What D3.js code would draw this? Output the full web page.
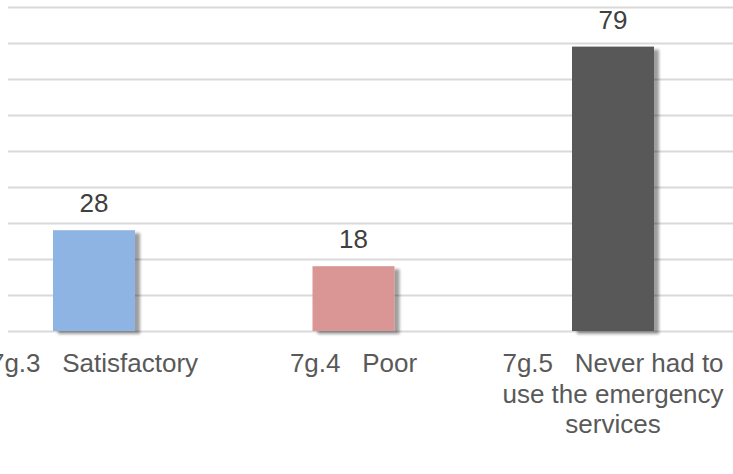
<!DOCTYPE html>
<html>
<head>
<meta charset="utf-8">
<script src="https://cdn.jsdelivr.net/npm/d3@7"></script>
<style>
  html, body { margin: 0; padding: 0; background: #fff; }
  svg { display: block; }
  text { font-family: "Liberation Sans", Arial, sans-serif; }
</style>
</head>
<body>
<svg id="chart" width="733" height="474"></svg>
<script>
const categories = ["7g.3   Satisfactory", "7g.4   Poor", "7g.5   Never had to use the emergency services"];
const values = [28, 18, 79];
const colors = ["#8EB4E3", "#D99694", "#595959"];
const gridTicks = [0, 10, 20, 30, 40, 50, 60, 70, 80, 90];

const svg = d3.select("#chart");
const W = 733, H = 474;

const y = d3.scaleLinear().domain([0, 90]).range([331, 7]);
const x = d3.scaleBand()
  .domain(categories)
  .range([-35.75, 742.75])
  .paddingInner(0.684)
  .paddingOuter(0.342);

const defs = svg.append("defs");
const f = defs.append("filter").attr("id", "shadow")
  .attr("x", "-20%").attr("y", "-20%").attr("width", "150%").attr("height", "150%");
f.append("feDropShadow")
  .attr("dx", 5).attr("dy", 3).attr("stdDeviation", 1.6)
  .attr("flood-color", "#000").attr("flood-opacity", 0.38);

// gridlines
svg.append("g").selectAll("line").data(gridTicks).join("line")
  .attr("x1", 8).attr("x2", W)
  .attr("y1", d => Math.round(y(d)) + 0.5)
  .attr("y2", d => Math.round(y(d)) + 0.5)
  .attr("stroke", "#d9d9d9").attr("stroke-width", 2);

// bars
svg.append("g").selectAll("rect").data(values).join("rect")
  .attr("x", (d, i) => x(categories[i]))
  .attr("width", x.bandwidth())
  .attr("y", d => y(d))
  .attr("height", d => y(0) - y(d))
  .attr("fill", (d, i) => colors[i])
  .attr("filter", "url(#shadow)");

// value labels
svg.append("g").selectAll("text").data(values).join("text")
  .attr("x", (d, i) => x(categories[i]) + x.bandwidth() / 2)
  .attr("y", d => y(d) - 18)
  .attr("text-anchor", "middle")
  .attr("font-size", 26)
  .attr("fill", "#404040")
  .text(d => d);

// category labels with wrapping
const maxW = x.step();
const labelG = svg.append("g");
categories.forEach((c, i) => {
  const cx = x(c) + x.bandwidth() / 2;
  const t = labelG.append("text")
    .attr("x", cx).attr("y", 372)
    .attr("text-anchor", "middle")
    .attr("font-size", 26)
    .attr("fill", "#595959")
    .style("white-space", "pre");
  const tokens = c.split(/( +)/);
  // build words (with preceding separators)
  const lines = [];
  let cur = "";
  const probe = t.append("tspan");
  for (let k = 0; k < tokens.length; k += 2) {
    const word = tokens[k];
    const sep = k > 0 ? tokens[k - 1] : "";
    const cand = cur === "" ? word : cur + sep + word;
    probe.text(cand);
    if (cur !== "" && probe.node().getComputedTextLength() > maxW - 20) {
      lines.push(cur);
      cur = word;
    } else {
      cur = cand;
    }
  }
  lines.push(cur);
  probe.remove();
  lines.forEach((ln, j) => {
    t.append("tspan").attr("x", cx).attr("dy", j === 0 ? 0 : 30.5).text(ln);
  });
});
</script>
</body>
</html>
